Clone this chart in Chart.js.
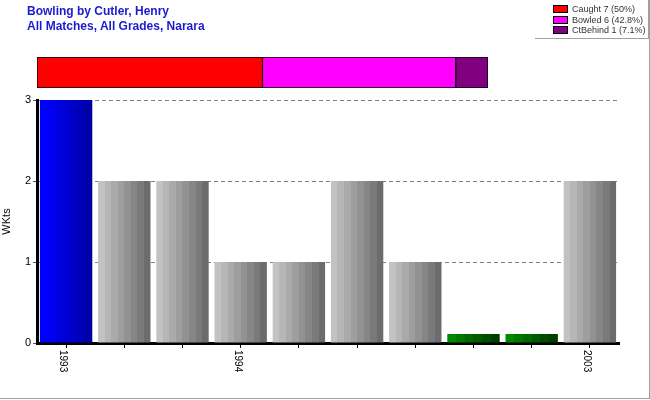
<!DOCTYPE html>
<html>
<head>
<meta charset="utf-8">
<script src="https://cdn.jsdelivr.net/npm/chart.js"></script>
<style>
  body { margin: 0; background: #fff; font-family: "Liberation Sans", Arial, sans-serif; }
  #wrap { position: relative; width: 649px; height: 398px; border-right: 1px solid #a0a0a0; border-bottom: 1px solid #a0a0a0; }
  canvas { position: absolute; left: 0; top: 0; }
  #title { position: absolute; left: 27px; top: 4px; font-weight: bold; font-size: 12px; line-height: 15px; color: #1a1ad0; }
  #legend { position: absolute; left: 535px; top: 0; width: 113px; height: 38px; border-right: 1px solid #a0a0a0; border-bottom: 1px solid #a0a0a0; }
  .row { position: absolute; left: 18px; font-size: 9px; color: #333; white-space: nowrap; line-height: 10px; }
  .box { display: inline-block; width: 13px; height: 6px; border: 1px solid #000; margin-right: 4px; vertical-align: -1px; }
</style>
</head>
<body>
<div id="wrap">
  <canvas id="mainChart" width="650" height="400"></canvas>
  <canvas id="topChart" width="650" height="95"></canvas>
  <div id="title">Bowling by Cutler, Henry<br>All Matches, All Grades, Narara</div>
  <div id="legend"></div>
</div>
<script>
// wickets per match
const categories = ['1993', '', '', '1994', '', '', '', '', '', '2003'];
const wickets = [3, 2, 2, 1, 1, 2, 1, 0, 0, 2];
const yTicks = [0, 1, 2, 3];

// how the wickets were taken
const dismissalLabels = ['Caught 7 (50%)', 'Bowled 6 (42.8%)', 'CtBehind 1 (7.1%)'];
const dismissalCounts = [7, 6, 1];
const dismissalColors = ['#ff0000', '#ff00ff', '#800080'];

const grays = ['#c2c2c2', '#b6b6b6', '#aaaaaa', '#9e9e9e', '#929292', '#868686', '#7a7a7a', '#6c6c6c'];
const greens = ['#008800', '#007800', '#006800', '#005a00', '#004c00', '#003e00'];
const blues = ['#0000ff', '#0000ee', '#0000dd', '#0000cc', '#0000bb', '#0000aa'];

function bandGradient(ctx, x0, x1, cols) {
  const g = ctx.createLinearGradient(x0, 0, x1, 0);
  const n = cols.length;
  cols.forEach((c, i) => {
    g.addColorStop(i / n, c);
    g.addColorStop(Math.min(1, (i + 1) / n - 0.0001), c);
  });
  return g;
}

function barColor(context) {
  const chart = context.chart;
  const v = context.raw;
  const maxV = Math.max(...wickets);
  const cols = v === maxV ? blues : (v === 0 ? greens : grays);
  if (!chart.chartArea || !chart.scales.x) return cols[3];
  const xs = chart.scales.x;
  const cx = xs.getPixelForValue(context.dataIndex);
  const half = xs.width / categories.length * 0.9 / 2;
  return bandGradient(chart.ctx, cx - half, cx + half, cols);
}

// x labels drawn rotated clockwise like the original
const xLabelPlugin = {
  id: 'xLabels',
  afterDraw(chart) {
    const ctx = chart.ctx;
    const xs = chart.scales.x;
    ctx.save();
    ctx.font = '10px "Liberation Sans", Arial, sans-serif';
    ctx.fillStyle = '#000';
    ctx.textAlign = 'left';
    ctx.textBaseline = 'middle';
    categories.forEach((lab, i) => {
      if (!lab) return;
      const x = xs.getPixelForTick(i) - 3;
      ctx.save();
      ctx.translate(x, xs.top + 7);
      ctx.rotate(Math.PI / 2);
      ctx.fillText(lab, 0, 0);
      ctx.restore();
    });
    ctx.restore();
  }
};

new Chart(document.getElementById('mainChart'), {
  type: 'bar',
  data: {
    labels: categories,
    datasets: [{
      label: 'Wkts',
      data: wickets,
      backgroundColor: barColor,
      borderWidth: 0,
      barPercentage: 0.9,
      categoryPercentage: 1,
      minBarLength: 9
    }]
  },
  options: {
    responsive: false,
    animation: false,
    layout: { padding: { left: 0, top: 100, right: 31, bottom: 0 } },
    plugins: { legend: { display: false }, title: { display: false }, tooltip: { enabled: false } },
    scales: {
      x: {
        afterFit: s => { s.height = 57; },
        grid: { offset: false, drawOnChartArea: false, drawTicks: true, tickLength: 5, tickColor: '#000', tickWidth: 1 },
        border: { display: true, color: '#000', width: 3 },
        ticks: { display: false }
      },
      y: {
        min: 0,
        max: 3,
        afterFit: s => { s.width = 37; },
        afterBuildTicks: s => { s.ticks = yTicks.map(v => ({ value: v })); },
        title: { display: true, text: 'WKts', color: '#000', font: { family: '"Liberation Sans", Arial', size: 11 }, padding: { top: 0, bottom: 4 } },
        ticks: { color: '#000', font: { family: '"Liberation Sans", Arial', size: 11 }, padding: 2 },
        grid: {
          color: ctx => ctx.tick && ctx.tick.value === 0 ? 'rgba(0,0,0,0)' : '#808080',
          lineWidth: 1,
          tickLength: 4,
          tickColor: '#555',
          tickBorderDash: []
        },
        border: { display: true, color: '#000', width: 3, dash: [4, 3] }
      }
    }
  },
  plugins: [xLabelPlugin]
});

new Chart(document.getElementById('topChart'), {
  type: 'bar',
  data: {
    labels: [''],
    datasets: dismissalLabels.map((lab, i) => ({
      label: lab,
      data: [dismissalCounts[i]],
      backgroundColor: dismissalColors[i],
      borderColor: '#000',
      borderWidth: 1,
      borderSkipped: false,
      barPercentage: 1,
      categoryPercentage: 1
    }))
  },
  options: {
    indexAxis: 'y',
    responsive: false,
    animation: false,
    layout: { padding: { left: 37, right: 162, top: 57, bottom: 7 } },
    plugins: { legend: { display: false }, tooltip: { enabled: false } },
    scales: {
      x: { stacked: true, min: 0, max: dismissalCounts.reduce((a, b) => a + b, 0), display: false },
      y: { stacked: true, display: false }
    }
  }
});

// legend built from the dismissal arrays
const legend = document.getElementById('legend');
dismissalLabels.forEach((lab, i) => {
  const row = document.createElement('div');
  row.className = 'row';
  row.style.top = (4 + i * 10.5) + 'px';
  const box = document.createElement('span');
  box.className = 'box';
  box.style.background = dismissalColors[i];
  row.appendChild(box);
  row.appendChild(document.createTextNode(lab));
  legend.appendChild(row);
});
</script>
</body>
</html>
